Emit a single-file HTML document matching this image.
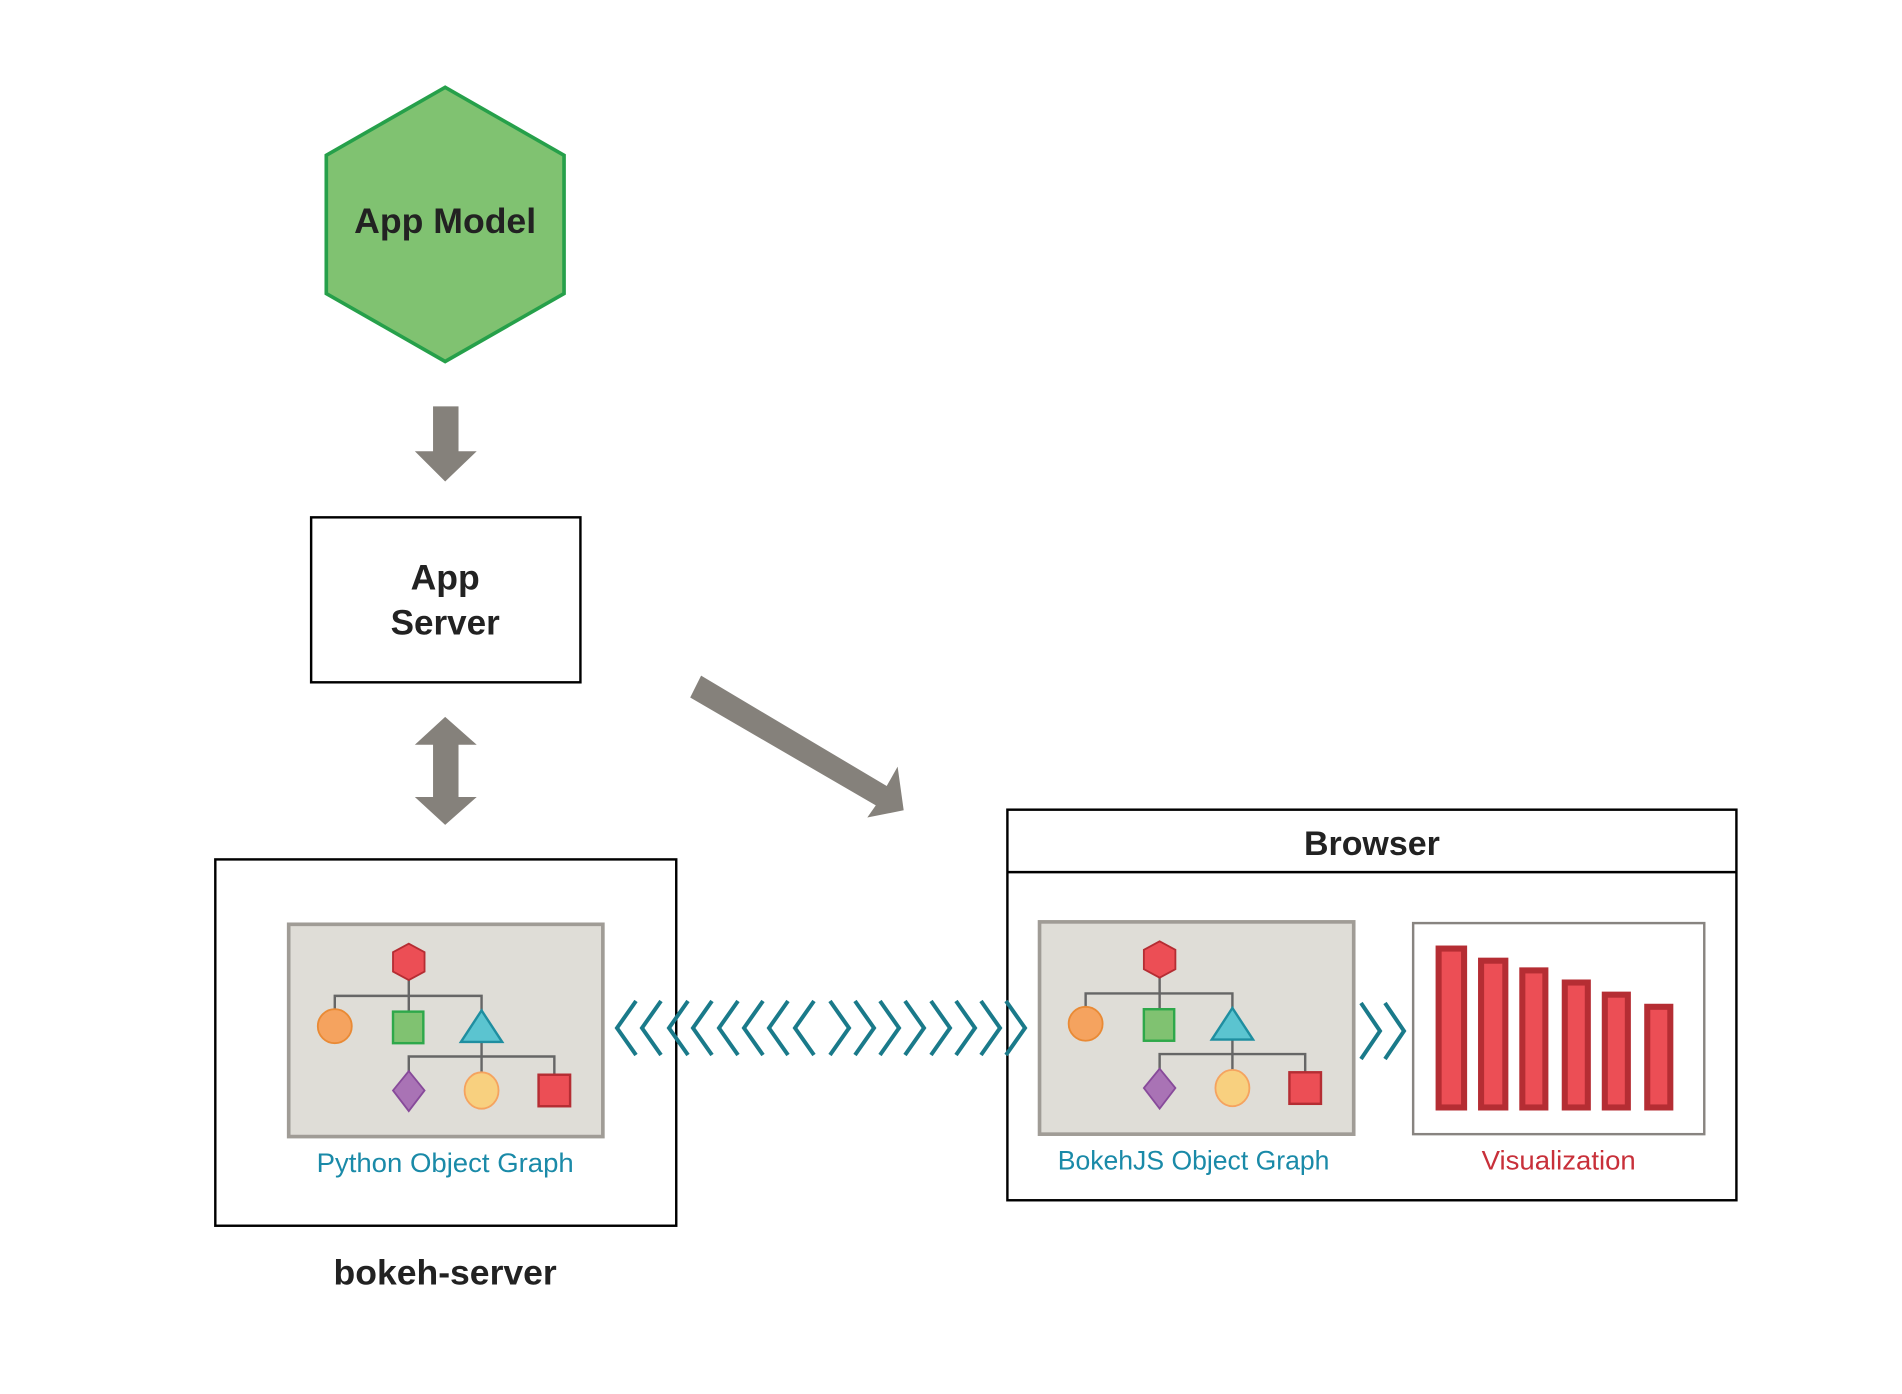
<!DOCTYPE html>
<html><head><meta charset="utf-8"><style>html,body{margin:0;padding:0;background:#fff}svg{display:block}</style></head>
<body>
<svg width="1902" height="1394" viewBox="0 0 1902 1394" xmlns="http://www.w3.org/2000/svg">
<g transform="scale(1.2130)">
  <!-- hexagon -->
  <polygon points="367,72 465,128 465,242 367,298 269,242 269,128" fill="#80c271" stroke="#26a04a" stroke-width="3"/>
  <text x="367" y="192" text-anchor="middle" font-family="Liberation Sans, sans-serif" font-weight="bold" font-size="29" fill="#222" textLength="150" lengthAdjust="spacingAndGlyphs">App Model</text>
  <!-- down arrow -->
  <polygon points="357,335 378,335 378,372 393,372 367,397 342,372 357,372" fill="#85817b"/>
  <!-- app server -->
  <rect x="256.5" y="426.5" width="222" height="136" fill="#fff" stroke="#000" stroke-width="2"/>
  <text x="367" y="486" text-anchor="middle" font-family="Liberation Sans, sans-serif" font-weight="bold" font-size="29" fill="#222" textLength="57" lengthAdjust="spacingAndGlyphs">App</text>
  <text x="367" y="523" text-anchor="middle" font-family="Liberation Sans, sans-serif" font-weight="bold" font-size="29" fill="#222" textLength="90" lengthAdjust="spacingAndGlyphs">Server</text>
  <!-- double arrow -->
  <polygon points="367,591 393,614 378,614 378,657 393,657 367,680 342,657 357,657 357,614 342,614" fill="#85817b"/>
  <!-- diagonal arrow -->
  <polygon points="578,557 569,575 722,664 715,674 745,668 740,632 731,648" fill="#85817b"/>
  <!-- left box -->
  <rect x="177.5" y="708.5" width="380" height="302" fill="#fff" stroke="#000" stroke-width="2"/>
  <text x="367" y="966" text-anchor="middle" font-family="Liberation Sans, sans-serif" font-size="22" fill="#1a8aa8" textLength="212" lengthAdjust="spacingAndGlyphs">Python Object Graph</text>
  <text x="367" y="1059" text-anchor="middle" font-family="Liberation Sans, sans-serif" font-weight="bold" font-size="29" fill="#222" textLength="184" lengthAdjust="spacingAndGlyphs">bokeh-server</text>
  <!-- browser box -->
  <rect x="830.5" y="667.5" width="601" height="322" fill="#fff" stroke="#000" stroke-width="2"/>
  <line x1="830" y1="719" x2="1432" y2="719" stroke="#000" stroke-width="2"/>
  <text x="1131" y="705" text-anchor="middle" font-family="Liberation Sans, sans-serif" font-weight="bold" font-size="28" fill="#222" textLength="112" lengthAdjust="spacingAndGlyphs">Browser</text>
  <text x="984" y="964" text-anchor="middle" font-family="Liberation Sans, sans-serif" font-size="22" fill="#1a8aa8" textLength="224" lengthAdjust="spacingAndGlyphs">BokehJS Object Graph</text>
  <text x="1285" y="964" text-anchor="middle" font-family="Liberation Sans, sans-serif" font-size="22" fill="#c8303a" textLength="127" lengthAdjust="spacingAndGlyphs">Visualization</text>
  <!-- vis box -->
  <rect x="1165" y="761" width="240" height="174" fill="#fff" stroke="#888480" stroke-width="2"/>
  <g fill="#ec4e55" stroke="#b52d33" stroke-width="5">
    <rect x="1186" y="782" width="21" height="131"/>
    <rect x="1221" y="792" width="20" height="121"/>
    <rect x="1255" y="800" width="19" height="113"/>
    <rect x="1290" y="810" width="19" height="103"/>
    <rect x="1323" y="820" width="19" height="93"/>
    <rect x="1358" y="830" width="19" height="83"/>
  </g>
  <!-- graph icons -->
  <g id="gr" transform="translate(238,762)">
    <rect x="0" y="0" width="259" height="175" fill="#dfddd7" stroke="#a09c96" stroke-width="3"/>
    <g stroke="#666" stroke-width="2" fill="none">
      <polyline points="38,72 38,59 159,59 159,72"/>
      <line x1="99" y1="31" x2="99" y2="72"/>
      <line x1="159" y1="85" x2="159" y2="124"/>
      <polyline points="99,124 99,109 219,109 219,124"/>
    </g>
    <polygon points="99,16 112,23 112,39 99,46 86,39 86,23" fill="#ec4e55" stroke="#b52d33" stroke-width="1.5"/>
    <ellipse cx="38" cy="84" rx="14" ry="14" fill="#f5a35f" stroke="#e98a35" stroke-width="1.5"/>
    <rect x="86" y="72" width="25" height="26" fill="#80c271" stroke="#2ea84a" stroke-width="2"/>
    <polygon points="159,71 176,97 142,97" fill="#5bc4d0" stroke="#1f8ea0" stroke-width="2"/>
    <polygon points="99,121 112,137 99,154 86,137" fill="#a973b5" stroke="#874a9a" stroke-width="1.5"/>
    <ellipse cx="159" cy="137" rx="14" ry="15" fill="#f8d07f" stroke="#f5a35f" stroke-width="1.5"/>
    <rect x="206" y="124" width="26" height="26" fill="#ec4e55" stroke="#b52d33" stroke-width="2"/>
  </g>
  <use href="#gr" transform="translate(619,-2)"/>
</g>
<!-- chevrons (actual coords) -->
<g fill="none" stroke="#1a7a8a" stroke-width="4" stroke-linejoin="miter">
  <polyline points="636,1001 617,1028 636,1055"/>
  <polyline points="661,1001 642,1028 661,1055"/>
  <polyline points="688,1001 669,1028 688,1055"/>
  <polyline points="712,1001 693,1028 712,1055"/>
  <polyline points="738,1001 719,1028 738,1055"/>
  <polyline points="763,1001 744,1028 763,1055"/>
  <polyline points="788,1001 769,1028 788,1055"/>
  <polyline points="814,1001 795,1028 814,1055"/>
  <polyline points="830,1001 849,1028 830,1055"/>
  <polyline points="855,1001 874,1028 855,1055"/>
  <polyline points="880,1001 899,1028 880,1055"/>
  <polyline points="905,1001 924,1028 905,1055"/>
  <polyline points="931,1001 950,1028 931,1055"/>
  <polyline points="956,1001 975,1028 956,1055"/>
  <polyline points="981,1001 1000,1028 981,1055"/>
  <polyline points="1006,1001 1025,1028 1006,1055"/>
  <polyline points="1361,1003 1380,1031 1361,1059"/>
  <polyline points="1385,1003 1404,1031 1385,1059"/>
</g>
</svg>
</body></html>
